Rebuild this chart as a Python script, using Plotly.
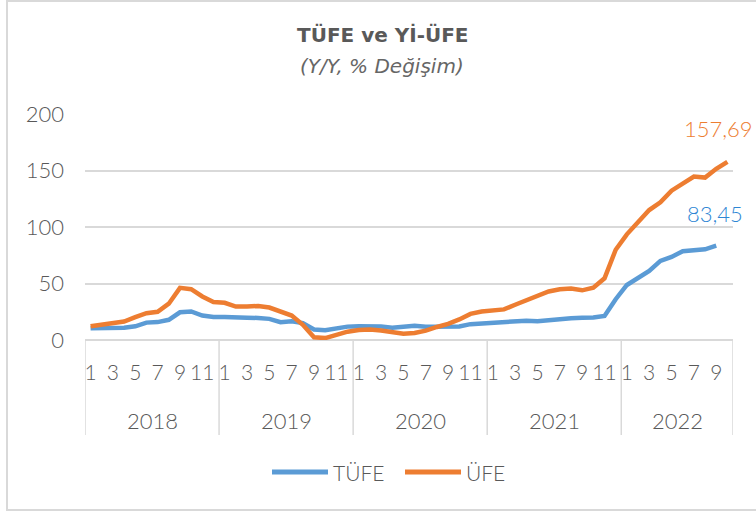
import plotly.graph_objects as go

years = ["2018", "2019", "2020", "2021", "2022"]
months_per_year = [12, 12, 12, 12, 10]

tufe = [10.35, 10.26, 10.23, 10.85, 12.15, 15.39, 15.85, 17.90, 24.52, 25.24, 21.62, 20.30,
        20.35, 19.67, 19.71, 19.50, 18.71, 15.72, 16.65, 15.01, 9.26, 8.55, 10.56, 11.84,
        12.15, 12.37, 11.86, 10.94, 11.39, 12.62, 11.76, 11.77, 11.75, 11.89, 14.03, 14.60,
        14.97, 15.61, 16.19, 17.14, 16.59, 17.53, 18.95, 19.25, 19.58, 19.89, 21.31, 36.08,
        48.69, 54.44, 61.14, 69.97, 73.50, 78.62, 79.60, 80.21, 83.45]

ufe = [12.14, 13.71, 14.28, 16.37, 20.16, 23.71, 25.00, 32.13, 46.15, 45.01, 38.54, 33.64,
       32.93, 29.59, 29.64, 30.12, 28.71, 25.04, 21.66, 13.45, 2.45, 1.70, 4.26, 7.36,
       8.84, 9.26, 8.50, 6.71, 5.53, 6.17, 8.33, 11.53, 14.33, 18.20, 23.11, 25.15,
       26.16, 27.09, 31.20, 35.17, 38.33, 42.89, 44.92, 45.52, 43.96, 46.31, 54.62, 79.89,
       93.53, 105.01, 114.97, 121.82, 132.16, 138.31, 144.61, 143.75, 151.50, 157.69]

series_names = ["TÜFE", "ÜFE"]
y_ticks = [0, 50, 100, 150, 200]
title_text = "TÜFE ve Yİ-ÜFE"
subtitle_text = "(Y/Y, % Değişim)"

# category positions
month_nums = []
for n in months_per_year:
    month_nums += list(range(1, n + 1))
idx = list(range(len(month_nums)))
tick_vals = [i for i, m in zip(idx, month_nums) if m % 2 == 1]
tick_text = [str(m) for m in month_nums if m % 2 == 1]

FONT = "Lato"
TFONT = "DejaVu Sans"
GRAY = "#595959"
BLUE = "#5B9BD5"
ORANGE = "#ED7D31"
GRID = "#D9D9D9"

L, R, T, B = 85, 23, 114, 173
W, H = 756, 513
PW, PH = W - L - R, H - T - B


def px(x):
    return (x - L) / PW


def py(y):
    return (H - B - y) / PH


fig = go.Figure()
fig.add_trace(go.Scatter(x=idx[:len(tufe)], y=tufe, mode="lines", name=series_names[0],
                         line=dict(color=BLUE, width=4.5), showlegend=False))
fig.add_trace(go.Scatter(x=idx[:len(ufe)], y=ufe, mode="lines", name=series_names[1],
                         line=dict(color=ORANGE, width=4.5), showlegend=False))

# year boundaries
bounds = [-0.5]
acc = -0.5
for n in months_per_year:
    acc += n
    bounds.append(acc)

shapes = []
for b in bounds:
    shapes.append(dict(type="line", xref="x", yref="paper", x0=b, x1=b, y0=0, y1=py(435),
                       line=dict(color=GRID, width=1.5)))
# outer border
shapes.append(dict(type="rect", xref="paper", yref="paper",
                   x0=px(7), x1=px(762), y0=py(510), y1=py(1),
                   line=dict(color=GRID, width=2), layer="below"))

# legend (drawn)
leg_items = [(series_names[0], BLUE, 272, 328), (series_names[1], ORANGE, 405, 461)]
annotations = []
for name, col, x0, x1 in leg_items:
    shapes.append(dict(type="line", xref="paper", yref="paper", x0=px(x0), x1=px(x1),
                       y0=py(472), y1=py(472), line=dict(color=col, width=5)))
    annotations.append(dict(x=px(x1 + 3), y=py(472), xref="paper", yref="paper",
                            xanchor="left", yanchor="middle", text=name, showarrow=False,
                            font=dict(family=FONT, size=21, color=GRAY, weight=300)))

for i, y in enumerate(years):
    annotations.append(dict(x=(bounds[i] + bounds[i + 1]) / 2, y=0, xref="x", yref="paper",
                            yshift=-80, yanchor="middle", text=y, showarrow=False,
                            font=dict(family=FONT, size=22, color=GRAY, weight=300)))


def fmt(v):
    return f"{v:.2f}".replace(".", ",")


annotations.append(dict(x=len(ufe) - 1, y=ufe[-1], xref="x", yref="y", yshift=33, xshift=-9,
                        yanchor="middle", text=fmt(ufe[-1]), showarrow=False,
                        font=dict(family=FONT, size=22, color=ORANGE, weight=300)))
annotations.append(dict(x=len(tufe) - 1, y=tufe[-1], xref="x", yref="y", yshift=32, xshift=-1,
                        yanchor="middle", text=fmt(tufe[-1]), showarrow=False,
                        font=dict(family=FONT, size=22, color="#2E86D4", weight=300)))

annotations.append(dict(x=px(383), y=py(35), xref="paper", yref="paper", yanchor="middle",
                        text="<b>" + title_text + "</b>", showarrow=False,
                        font=dict(family=TFONT, size=20, color=GRAY)))
annotations.append(dict(x=px(382), y=py(66), xref="paper", yref="paper", yanchor="middle",
                        text="<i>" + subtitle_text + "</i>", showarrow=False,
                        font=dict(family=TFONT, size=20, color="#666666")))

fig.update_layout(
    width=W, height=H,
    margin=dict(l=L, r=R, t=T, b=B, autoexpand=False),
    paper_bgcolor="white", plot_bgcolor="white",
    font=dict(family=FONT, color=GRAY),
    showlegend=False,
    shapes=shapes,
    annotations=annotations,
)
fig.update_xaxes(range=[-0.5, bounds[-1]], tickvals=tick_vals, ticktext=tick_text,
                 showgrid=False, zeroline=False, showline=False, ticks="",
                 tickfont=dict(family=FONT, size=21, color=GRAY, weight=300),
                 ticklabelstandoff=18, automargin=False)
fig.update_yaxes(range=[0, 200], tickvals=y_ticks, showgrid=True, gridcolor=GRID, gridwidth=1.5,
                 zeroline=True, zerolinecolor=GRID, zerolinewidth=1.5, showline=False, ticks="",
                 tickfont=dict(family=FONT, size=22, color=GRAY, weight=300),
                 ticklabelstandoff=20, automargin=False)

fig.write_html("out.html", config={"displayModeBar": False},
               post_script="document.body.style.margin='0';")
